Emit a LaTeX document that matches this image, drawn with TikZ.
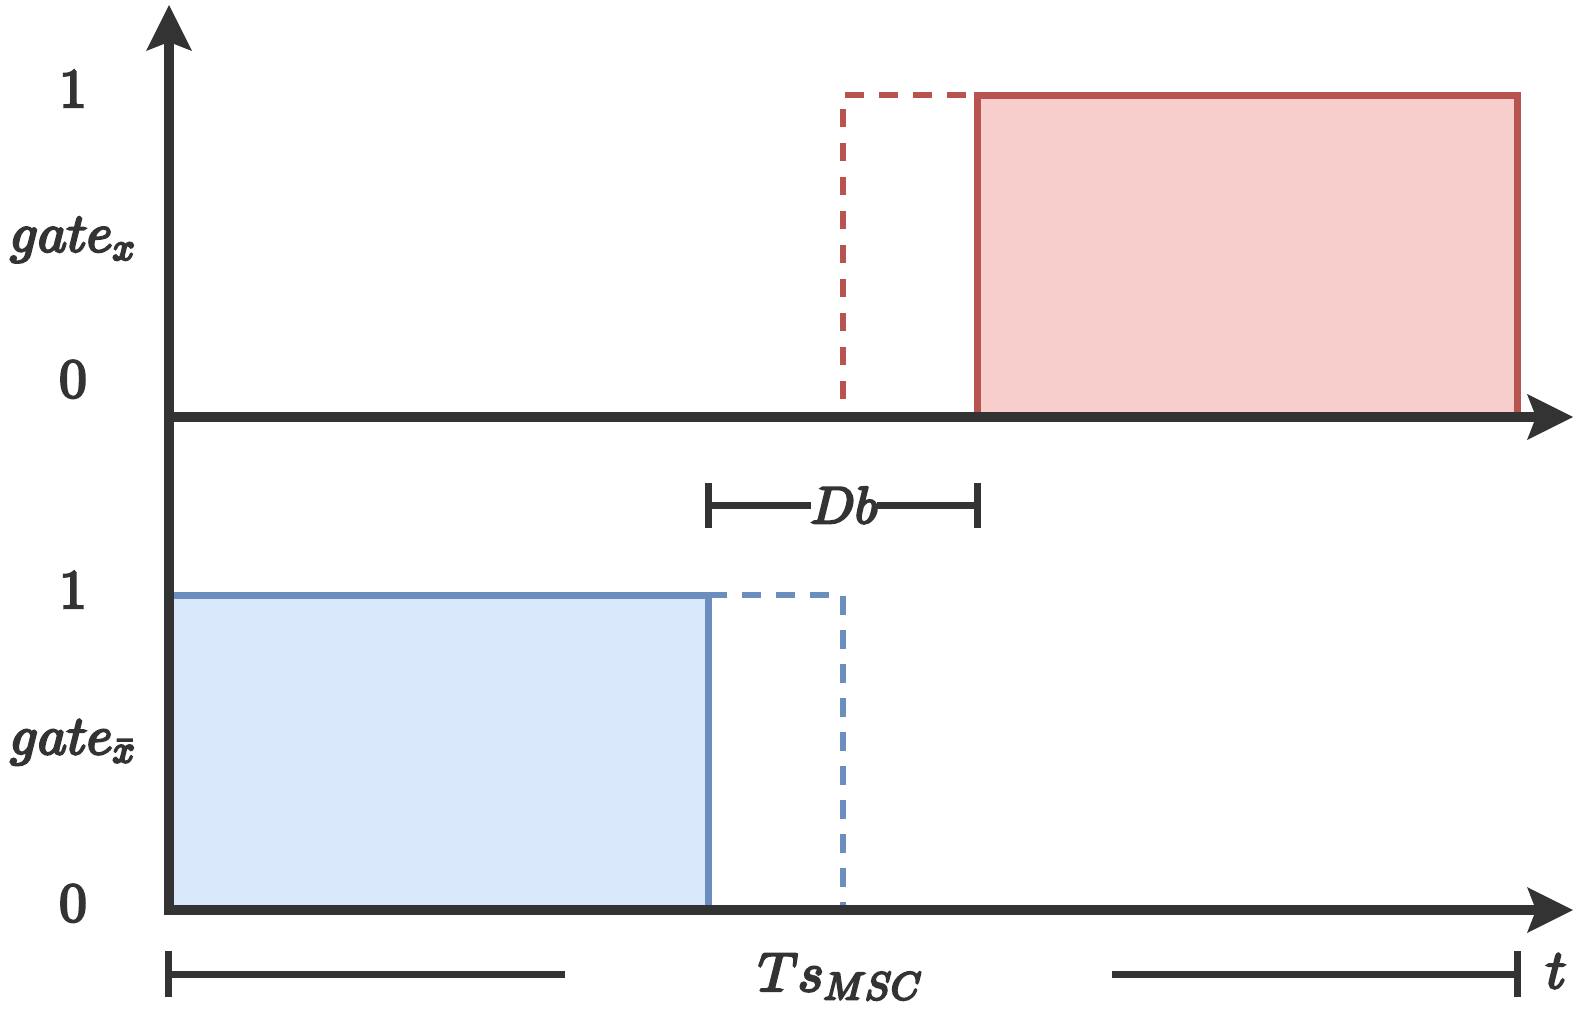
\RequirePackage{fix-cm}
\documentclass[tikz,border=0pt]{standalone}
\usetikzlibrary{arrows.meta}
\DeclareFontShape{OML}{cmm}{m}{it}{<->cmmi10}{}
\DeclareFontShape{OT1}{cmr}{m}{n}{<->cmr10}{}
\definecolor{ink}{HTML}{333333}
\definecolor{redS}{HTML}{B85450}
\definecolor{redF}{HTML}{F8CECC}
\definecolor{bluS}{HTML}{6C8EBF}
\definecolor{bluF}{HTML}{DAE8FC}
\newcommand\heavyon{\special{pdf:literal direct 2 Tr 2.4 w}}
\newcommand\heavyoff{\special{pdf:literal direct 0 Tr}}
\tikzset{
  axtip/.tip={Stealth[length=46pt,width=46pt,inset=9pt,line width=0pt]},
  axisline/.style={draw=ink, line width=10pt, line join=miter},
  spanline/.style={draw=ink, line width=7pt},
  redbox/.style={draw=redS, fill=redF, line width=7pt},
  bluebox/.style={draw=bluS, fill=bluF, line width=7pt},
  reddash/.style={draw=redS, line width=6.5pt, dash pattern=on 18.5pt off 15.5pt},
  bluedash/.style={draw=bluS, line width=6.5pt, dash pattern=on 18.5pt off 15.5pt},
  heavy/.style={execute at begin node=\heavyon, execute at end node=\heavyoff},
  lbl/.style={text=ink, font=\fontsize{55}{66}\selectfont, inner sep=0pt, anchor=base, heavy},
  lblsmall/.style={text=ink, font=\fontsize{52}{62}\selectfont, inner sep=0pt, fill=white, heavy}
}
\begin{document}
\begin{tikzpicture}[x=1pt,y=-1pt]
\useasboundingbox (0,0) rectangle (1589,1021);
% key coordinates
\coordinate (ytop) at (169,5);
\coordinate (o2) at (169,910);
\coordinate (x2end) at (1573,910);
\coordinate (o1) at (169,417);
\coordinate (x1end) at (1573,417);
\coordinate (rTL) at (977,95);
\coordinate (rBR) at (1517,417);
\coordinate (rdB) at (843,399);
\coordinate (rdT) at (843,95);
\coordinate (bTL) at (169,595);
\coordinate (bBR) at (708,910);
\coordinate (bdR) at (843,595);
\coordinate (bdB) at (843,910);
% signal boxes
\draw[redbox] (rTL) rectangle (rBR);
\draw[reddash] (rdB) -- (rdT) -- (rTL);
\draw[bluebox] (bTL) rectangle (bBR);
\draw[bluedash] (bBR |- bTL) -- (bdR) -- (bdB);
% axes
\draw[axisline, {axtip}-{axtip}] (ytop) -- (o2) -- (x2end);
\draw[axisline, -{axtip}] (o1) -- (x1end);
% Db interval
\coordinate (dbL) at (708,505);
\coordinate (dbR) at (977,505);
\draw[spanline] (dbL) -- (dbR);
\draw[spanline] ([yshift=-22.5pt]dbL) -- ([yshift=22.5pt]dbL);
\draw[spanline] ([yshift=-22.5pt]dbR) -- ([yshift=22.5pt]dbR);
% Ts span
\coordinate (tsL) at (168,974);
\coordinate (tsR) at (1517,974);
\coordinate (tsLe) at (565,974);
\coordinate (tsRs) at (1112,974);
\draw[spanline] (tsL) -- (tsLe);
\draw[spanline] (tsRs) -- (tsR);
\draw[spanline] ([yshift=-23pt]tsL) -- ([yshift=23pt]tsL);
\draw[spanline] ([yshift=-23pt]tsR) -- ([yshift=23pt]tsR);
% labels
\node[lblsmall] (db) at (844,505) {$Db$};
\node[lbl] (ts) at (840,991) {$Ts_{MSC}$};
\node[lbl] (t) at (1556,988) {$t$};
\node[lbl] (one1) at (73,107) {$1$};
\node[lbl] (g1) at (72.5,251.5) {$gate_{x}$};
\node[lbl] (zero1) at (73,397) {$0$};
\node[lbl] (one2) at (73,608) {$1$};
\node[lbl] (g2) at (72.5,754) {$gate_{\bar{x}}$};
\node[lbl] (zero2) at (73,921) {$0$};
\end{tikzpicture}
\end{document}
